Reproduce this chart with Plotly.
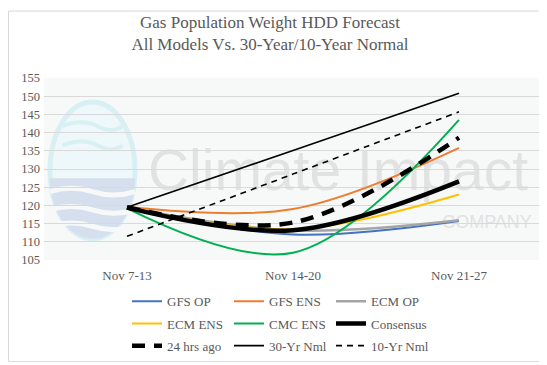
import math
import plotly.graph_objects as go

# ---------------- data ----------------
categories = ["Nov 7-13", "Nov 14-20", "Nov 21-27"]
gfs_op = [119.4, 112.0, 115.7]
gfs_ens = [119.6, 119.0, 135.8]
ecm_op = [119.4, 113.1, 115.9]
ecm_ens = [119.4, 113.5, 123.0]
cmc_ens = [119.2, 107.0, 143.5]
consensus = [119.4, 113.2, 126.6]
hrs24_ago = [119.5, 115.3, 138.6]
nml_30yr = [119.5, 135.1, 150.8]
nml_10yr = [111.5, 128.6, 145.7]
y_ticks = [105, 110, 115, 120, 125, 130, 135, 140, 145, 150, 155]

series = [
    ("GFS OP", gfs_op, "#4472C4", 2, "solid", "legend"),
    ("GFS ENS", gfs_ens, "#ED7D31", 2, "solid", "legend"),
    ("ECM OP", ecm_op, "#A5A5A5", 2.5, "solid", "legend"),
    ("ECM ENS", ecm_ens, "#FFC000", 2, "solid", "legend2"),
    ("CMC ENS", cmc_ens, "#00B050", 2, "solid", "legend2"),
    ("Consensus", consensus, "#000000", 4.5, "solid", "legend2"),
    ("24 hrs ago", hrs24_ago, "#000000", 4.5, "13px,9px", "legend3"),
    ("30-Yr Nml", nml_30yr, "#000000", 1.6, "solid", "legend3"),
    ("10-Yr Nml", nml_10yr, "#000000", 1.6, "6px,5px", "legend3"),
]

# ---------------- layout geometry (pixels) ----------------
W, H = 547, 365
L, R, T, B = 36, 534, 70, 259
PW, PH = R - L, B - T
TXT = "#595959"
SERIF = "Liberation Serif, Times New Roman, serif"
WM_FONT = "Liberation Sans, Arial, sans-serif"


def px(x):
    return (x - L) / PW


def py(y):
    return (B - y) / PH


fig = go.Figure()
for name, vals, color, width, dash, leg in series:
    fig.add_trace(go.Scatter(
        x=categories, y=vals, name=name, mode="lines",
        line=dict(color=color, width=width, dash=dash, shape="spline", smoothing=1),
        legend=leg, hoverinfo="skip",
    ))

shapes = []
# outer border
shapes.append(dict(type="rect", xref="paper", yref="paper",
                   x0=px(0.5), x1=px(W - 0.5), y0=py(H - 0.5), y1=py(0.5),
                   line=dict(color="#d9d9d9", width=1), fillcolor="rgba(0,0,0,0)", layer="above"))

# watermark logo (decoration)
cx, cy, rx, ry = 84.5, 166, 42.5, 71
shapes.append(dict(type="circle", xref="paper", yref="paper",
                   x0=px(cx - rx), x1=px(cx + rx), y0=py(cy + ry), y1=py(cy - ry),
                   line=dict(color="#d8f0f4", width=5), fillcolor="#eef8fa", layer="below"))
pts = []
for i in range(0, 181, 6):
    a = math.radians(i)
    pts.append((cx + rx * math.cos(a), cy + 8 + (ry - 8) * math.sin(a)))
path = "M" + " L".join(f"{px(x):.4f},{py(y):.4f}" for x, y in pts) + " Z"
shapes.append(dict(type="path", xref="paper", yref="paper", path=path,
                   line=dict(width=0), fillcolor="#d6dfed", layer="below"))
for yy in (188, 207, 224):
    p = (f"M{px(cx - rx):.4f},{py(yy):.4f} Q{px(cx - rx / 2):.4f},{py(yy - 7):.4f} {px(cx):.4f},{py(yy):.4f} "
         f"T{px(cx + rx):.4f},{py(yy):.4f}")
    shapes.append(dict(type="path", xref="paper", yref="paper", path=p,
                       line=dict(color="#f7f9f9", width=5), layer="below"))
for yy in (120, 140):
    p = (f"M{px(cx - 30):.4f},{py(yy):.4f} Q{px(cx - 10):.4f},{py(yy - 8):.4f} {px(cx + 5):.4f},{py(yy):.4f} "
         f"T{px(cx + 30):.4f},{py(yy):.4f}")
    shapes.append(dict(type="path", xref="paper", yref="paper", path=p,
                       line=dict(color="#d8f0f4", width=4), layer="below"))

shapes.append(dict(type="rect", xref="paper", yref="paper",
                   x0=px(137), x1=px(523), y0=py(194), y1=py(126),
                   line=dict(width=0), fillcolor="rgba(0,0,0,0)", layer="below",
                   label=dict(text="Climate Impact", textposition="middle center",
                              font=dict(family=WM_FONT, size=57, color="#e2e2e2"))))
shapes.append(dict(type="rect", xref="paper", yref="paper",
                   x0=px(433), x1=px(525), y0=py(230), y1=py(205),
                   line=dict(width=0), fillcolor="rgba(0,0,0,0)", layer="below",
                   label=dict(text="COMPANY", textposition="middle center",
                              font=dict(family=WM_FONT, size=18, color="#e2e2e2"))))

leg_common = dict(orientation="h", xanchor="left", yanchor="middle", x=px(119),
                  font=dict(family=SERIF, size=13, color=TXT),
                  bgcolor="rgba(0,0,0,0)", entrywidth=57, itemwidth=30,
                  traceorder="normal")

fig.update_layout(
    width=W, height=H,
    margin=dict(l=L, r=W - R, t=T, b=H - B, pad=0),
    paper_bgcolor="#ffffff", plot_bgcolor="#f7f9f9",
    title=dict(text="Gas Population Weight HDD Forecast<br>All Models Vs. 30-Year/10-Year Normal",
               x=262 / W, xref="container", xanchor="center",
               y=1 - 20 / H, yref="container", yanchor="middle",
               font=dict(family=SERIF, size=17, color=TXT)),
    xaxis=dict(type="category", showgrid=False, zeroline=False, showline=False, ticks="",
               tickfont=dict(family=SERIF, size=13, color=TXT), ticklabelstandoff=6,
               range=[-0.5, 2.5], fixedrange=True),
    yaxis=dict(range=[105, 155], tickvals=y_ticks, showgrid=True, gridcolor="#d9d9d9", gridwidth=1,
               zeroline=False, showline=False, ticks="",
               tickfont=dict(family=SERIF, size=12.5, color=TXT), ticklabelstandoff=3),
    legend=dict(**leg_common, y=py(302)),
    legend2=dict(**leg_common, y=py(325)),
    legend3=dict(**leg_common, y=py(348)),
    shapes=shapes,
    showlegend=True,
)

fig.write_html("out.html")
